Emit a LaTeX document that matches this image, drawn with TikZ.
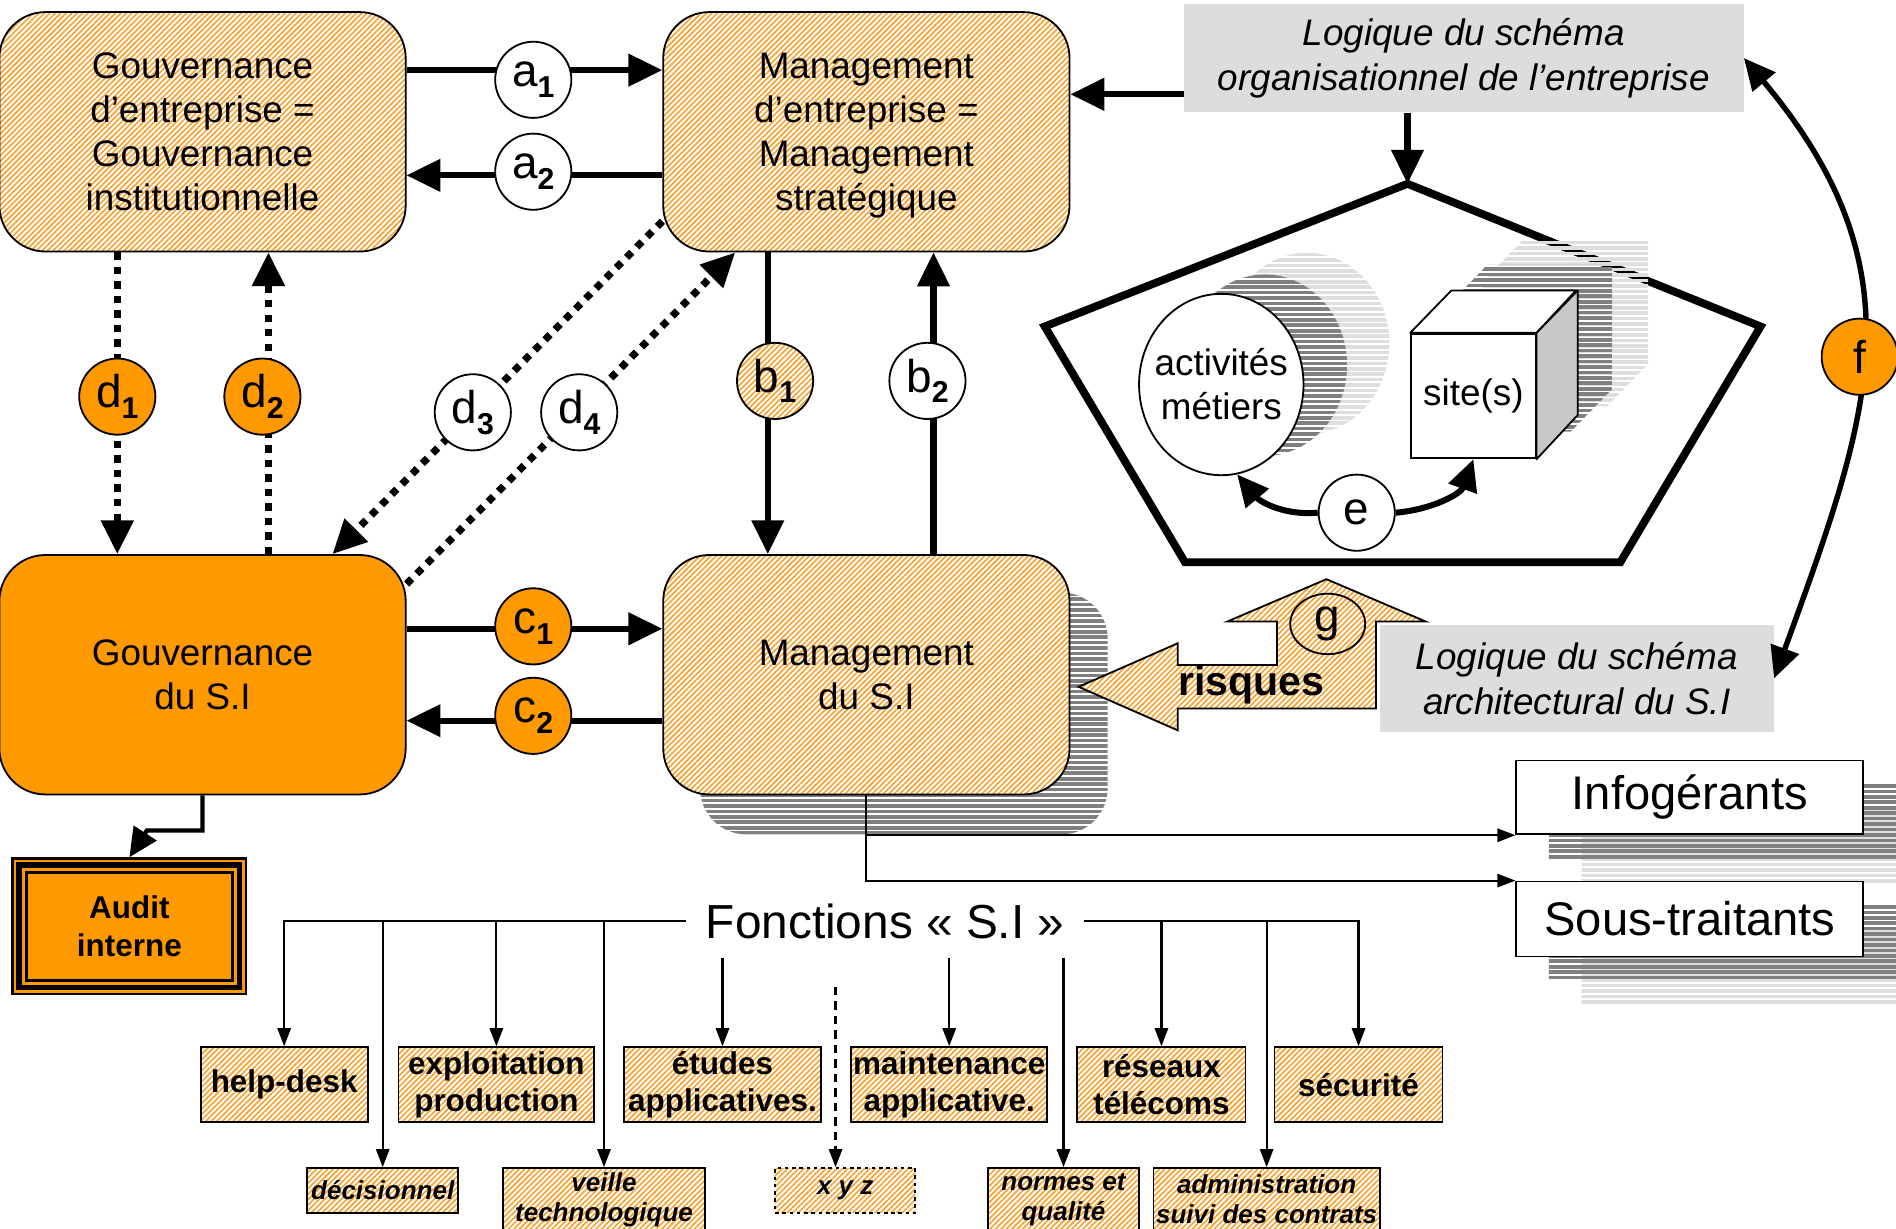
\documentclass[tikz,border=0pt]{standalone}
\usepackage{fontspec}
\setmainfont{Liberation Sans}
\usetikzlibrary{arrows.meta,shapes.geometric,patterns.meta,calc}

\definecolor{orng}{HTML}{FF9900}
\definecolor{hatchor}{HTML}{F8A12E}
\definecolor{logicgray}{HTML}{DDDDDD}
\definecolor{shdark}{HTML}{808080}
\definecolor{shlight}{HTML}{DEDEDE}
\definecolor{cubeside}{HTML}{C8C8C8}

% letter with a bold subscript, used inside the small circles
\newcommand\sublbl[2]{#1\raisebox{-9pt}{\fontsize{25}{25}\selectfont\bfseries #2}}
% horizontal stripes: colour, x from, x to, first y, number of stripes
\newcommand\hstripes[5]{\foreach \k in {0,...,#5}{\draw[#1,line width=3pt] (#2,{#4+4.5*\k}) -- (#3,{#4+4.5*\k});}}

\begin{document}
\begin{tikzpicture}[x=1pt,y=-1pt,
  hatch/.style={preaction={fill=white},pattern={Lines[angle=45,distance=3.2pt,line width=1.35pt]},pattern color=hatchor},
  bigbox/.style={draw,line width=1.5pt,rounded corners=38pt,minimum width=336pt,minimum height=198pt,
                 align=center,inner sep=0pt,text depth=0pt,font=\fontsize{30.5}{36.5}\selectfont},
  logicbox/.style={fill=logicgray,align=center,inner sep=0pt,font=\fontsize{30.5}{37}\selectfont\itshape},
  lcirc/.style={circle,draw,line width=1.5pt,minimum size=63pt,inner sep=0pt,fill=white,font=\fontsize{38}{38}\selectfont},
  fbox/.style={draw,line width=1.5pt,hatch,align=center,inner sep=0pt,minimum height=62pt,
               font=\fontsize{26}{31}\selectfont\bfseries},
  sbox/.style={draw,line width=1.5pt,hatch,align=center,inner sep=0pt,
               font=\fontsize{21.5}{25}\selectfont\bfseries\itshape},
  extbox/.style={draw,line width=1.5pt,fill=white,minimum width=287pt,inner sep=0pt,font=\fontsize{39}{40}\selectfont},
  thickarr/.style={line width=5pt,-{Triangle[length=28pt,width=26pt]}},
  dotarr/.style={line width=6pt,dash pattern=on 6pt off 6pt,-{Triangle[length=28pt,width=26pt]}},
  farr/.style={line width=1.8pt,-{Triangle[length=15pt,width=11pt]}},
  earc/.style={line width=5pt,-{Triangle[length=26pt,width=24pt]}},
  farc/.style={line width=4.5pt,{Triangle[length=26pt,width=24pt]}-{Triangle[length=26pt,width=24pt]}},
  audarr/.style={line width=3.5pt,-{Triangle[length=24pt,width=22pt]}}
]
\useasboundingbox (0,0) rectangle (1568,1016);

% ---------- shadows behind boxes ----------
\begin{scope}
  \clip[rounded corners=38pt] (579,490) rectangle (916,690);
  \hstripes{shdark}{570}{930}{491}{45}
\end{scope}
\begin{scope}
  \clip (1308,669) rectangle (1595,730);
  \hstripes{shlight}{1300}{1600}{670}{14}
\end{scope}
\begin{scope}
  \clip (1281,649) rectangle (1568,710);
  \hstripes{shdark}{1270}{1600}{650}{14}
\end{scope}
\begin{scope}
  \clip (1308,769) rectangle (1595,831);
  \hstripes{shlight}{1300}{1600}{770}{14}
\end{scope}
\begin{scope}
  \clip (1281,749) rectangle (1568,811);
  \hstripes{shdark}{1270}{1600}{750}{14}
\end{scope}

% ---------- main boxes ----------
\node[bigbox,hatch] (GE) at (167.5,109) {Gouvernance\\d’entreprise =\\Gouvernance\\institutionnelle};
\node[bigbox,hatch] (ME) at (716.5,109) {Management\\d’entreprise =\\Management\\stratégique};
\node[bigbox,fill=orng] (GSI) at (167.5,558) {Gouvernance\\du S.I};
\node[bigbox,hatch] (MSI) at (716.5,558) {Management\\du S.I};

\node[logicbox,minimum width=463pt,minimum height=90pt] (orgbox) at (1210.5,48)
  {Logique du schéma\\organisationnel de l’entreprise};
\node[logicbox,minimum width=326pt,minimum height=88pt] (archbox) at (1304,561)
  {Logique du schéma\\architectural du S.I};

\node[extbox,minimum height=61pt] (infog) at (1397.5,659.5) {Infogérants};
\node[extbox,minimum height=62pt] (sous) at (1397.5,760) {Sous-traitants};

% audit box with its triple frame
\node[draw,line width=2pt,fill=orng,minimum width=193pt,minimum height=112pt,inner sep=0pt,align=center,
      font=\fontsize{26}{32}\selectfont\bfseries] (audit) at (107,766) {Audit\\interne};
\draw[line width=4.4pt] ([shift={(6.3,6.3)}]audit.north west) rectangle ([shift={(-6.3,-6.3)}]audit.south east);
\draw[line width=2.2pt] ([shift={(12.4,12.4)}]audit.north west) rectangle ([shift={(-12.4,-12.4)}]audit.south east);

% ---------- pentagon with business activities and sites ----------
\coordinate (ptop) at (1164,152);
\draw[line width=6.5pt,line join=miter] (ptop) -- (1456,270) -- (1340,465) -- (980,465) -- (864,270) -- cycle;

\begin{scope}
  \clip (1081,284) ellipse [x radius=68pt,y radius=75pt];
  \hstripes{shlight}{1000}{1160}{206}{36}
\end{scope}
\begin{scope}
  \clip (1046,302) ellipse [x radius=68pt,y radius=75pt];
  \hstripes{shdark}{970}{1120}{224}{36}
\end{scope}
\begin{scope}
  \clip[shift={(59,-43)}] (1167,379) -- (1167,276) -- (1201,241) -- (1304,241) -- (1304,344) -- (1270,379) -- cycle;
  \hstripes{shlight}{1200}{1380}{196}{36}
\end{scope}
\begin{scope}
  \clip[shift={(29,-22)}] (1167,379) -- (1167,276) -- (1201,241) -- (1304,241) -- (1304,344) -- (1270,379) -- cycle;
  \hstripes{shdark}{1190}{1340}{218}{36}
\end{scope}

\node[ellipse,draw,line width=1.5pt,fill=white,minimum width=136pt,minimum height=150pt,inner sep=0pt] (act) at (1010,318) {};
\node[align=center,inner sep=0pt,font=\fontsize{30.5}{36.5}\selectfont] (acttxt) at (act.center) {activités\\métiers};
\node[draw,line width=1.5pt,fill=white,minimum width=103pt,minimum height=103pt,inner sep=0pt,
      font=\fontsize{30.5}{36.5}\selectfont] (site) at (1218.5,327.5) {site(s)};
\filldraw[fill=white,line width=1.5pt,line join=round] (site.north west) -- ++(34,-35) -- ++(103,0) -- (site.north east) -- cycle;
\filldraw[fill=cubeside,line width=1.5pt,line join=round] (site.north east) -- ++(34,-35) -- ++(0,103) -- (site.south east) -- cycle;

% ---------- risk arrow ----------
\path[hatch,draw,line width=1.5pt,line join=miter]
  (1097,479) -- (1179,514) -- (1138,514) -- (1138,586) -- (974,586) -- (974,604) -- (892,568)
  -- (974,532) -- (974,550) -- (1056,550) -- (1056,514) -- (1015,514) -- cycle;
\node[font=\fontsize{34}{34}\selectfont\bfseries] (risq) at (1035,566) {risques};
\node[ellipse,draw,line width=1.5pt,minimum width=62pt,minimum height=50pt,inner sep=0pt,
      font=\fontsize{38}{38}\selectfont] (g) at (1098,516) {g};

% ---------- function boxes ----------
\node[fbox,minimum width=138pt] (hd) at (235,897) {help-desk};
\node[fbox,minimum width=162pt] (ex) at (410.5,897) {exploitation\\production};
\node[fbox,minimum width=163pt] (et) at (597.5,897) {études\\applicatives.};
\node[fbox,minimum width=162pt] (ma) at (785,897) {maintenance\\applicative.};
\node[fbox,minimum width=139pt] (re) at (960.5,897) {réseaux\\télécoms};
\node[fbox,minimum width=139pt] (se) at (1123.5,897) {sécurité};

\node[sbox,minimum width=125pt,minimum height=37pt] (de) at (316.5,984.5) {décisionnel};
\node[sbox,minimum width=167pt,minimum height=52pt] (ve) at (499.5,992) {veille\\technologique};
\node[sbox,minimum width=116pt,minimum height=37pt,dashed] (xyz) at (699,984.5) {x y z};
\node[sbox,minimum width=125pt,minimum height=52pt] (no) at (879.5,992) {normes et\\qualité};
\node[sbox,minimum width=187pt,minimum height=52pt] (ad) at (1047.5,992) {administration\\suivi des contrats};

\node[font=\fontsize{39.5}{40}\selectfont,inner xsep=16pt,inner ysep=0pt,minimum height=60pt] (fonc) at (732,762)
  {Fonctions « S.I »};

% ---------- connectors ----------
\coordinate (ya1) at (0,58);
\coordinate (ya2) at (0,145);
\coordinate (yc1) at (0,520);
\coordinate (yc2) at (0,596);
\coordinate (yorg) at (0,78);
\coordinate (xd1) at (97,0);
\coordinate (xd2) at (222,0);
\coordinate (xb1) at (635,0);
\coordinate (xb2) at (772,0);
\coordinate (d3s) at (548,183);
\coordinate (d3e) at (275,458);
\coordinate (d4s) at (335,483);
\coordinate (d4e) at (608,208);
\coordinate (xyzs) at (691,816);

\draw[thickarr] (GE.east |- ya1) -- (ME.west |- ya1);
\draw[thickarr] (ME.west |- ya2) -- (GE.east |- ya2);
\draw[thickarr] (GSI.east |- yc1) -- (MSI.west |- yc1);
\draw[thickarr] (MSI.west |- yc2) -- (GSI.east |- yc2);
\draw[thickarr] (ME.south -| xb1) -- (MSI.north -| xb1);
\draw[thickarr] (MSI.north -| xb2) -- (ME.south -| xb2);
\draw[dotarr] (GE.south -| xd1) -- (GSI.north -| xd1);
\draw[dotarr] (GSI.north -| xd2) -- (GE.south -| xd2);
\draw[dotarr] (ME.west |- d3s) -- (GSI.north -| d3e);
\draw[dotarr] (GSI.east |- d4s) -- (ME.south -| d4e);

\draw[thickarr] (orgbox.west |- yorg) -- (ME.east |- yorg);
\draw[thickarr] (orgbox.south -| ptop) -- (ptop);
\draw[farc] (orgbox.east) to[out=-50,in=70,looseness=1.15] (archbox.east);

\draw[audarr] (GSI.south) -- ++(0,29) -- ++(-46,0) -- (audit.north);

\draw[farr] (MSI.south) |- (sous.north west);
\draw[farr] (MSI.south |- infog.south west) -- (infog.south west);

\draw[farr] (fonc.west) -| (hd.north);
\draw[farr] (de.north |- fonc.west) -- (de.north);
\draw[farr] (ex.north |- fonc.west) -- (ex.north);
\draw[farr] (ve.north |- fonc.west) -- (ve.north);
\draw[farr] (et.north |- fonc.south) -- (et.north);
\draw[farr] (ma.north |- fonc.south) -- (ma.north);
\draw[farr] (no.north |- fonc.south) -- (no.north);
\draw[farr,dash pattern=on 7pt off 5pt] (xyzs) -- (xyzs |- xyz.north);
\draw[farr] (fonc.east) -| (se.north);
\draw[farr] (re.north |- fonc.east) -- (re.north);
\draw[farr] (ad.north |- fonc.east) -- (ad.north);

% ---------- labelled circles ----------
\node[lcirc] (a1) at (441,66) {\sublbl{a}{1}};
\node[lcirc] (a2) at (441,142) {\sublbl{a}{2}};
\node[lcirc,hatch] (b1) at (641,315) {\sublbl{b}{1}};
\node[lcirc] (b2) at (767,315) {\sublbl{b}{2}};
\node[lcirc,fill=orng] (c1) at (441,518) {\sublbl{c}{1}};
\node[lcirc,fill=orng] (c2) at (441,592) {\sublbl{c}{2}};
\node[lcirc,fill=orng] (d1) at (97,328) {\sublbl{d}{1}};
\node[lcirc,fill=orng] (d2) at (217,328) {\sublbl{d}{2}};
\node[lcirc] (d3) at (391,341) {\sublbl{d}{3}};
\node[lcirc] (d4) at (479,341) {\sublbl{d}{4}};
\node[lcirc] (e) at (1122,424) {e};
\node[lcirc,fill=orng] (f) at (1538,295) {f};

\draw[earc] (e.west) to[out=185,in=-50] (act.-80);
\draw[earc] (e.east) to[out=5,in=-110] (site.south);
\end{tikzpicture}
\end{document}
